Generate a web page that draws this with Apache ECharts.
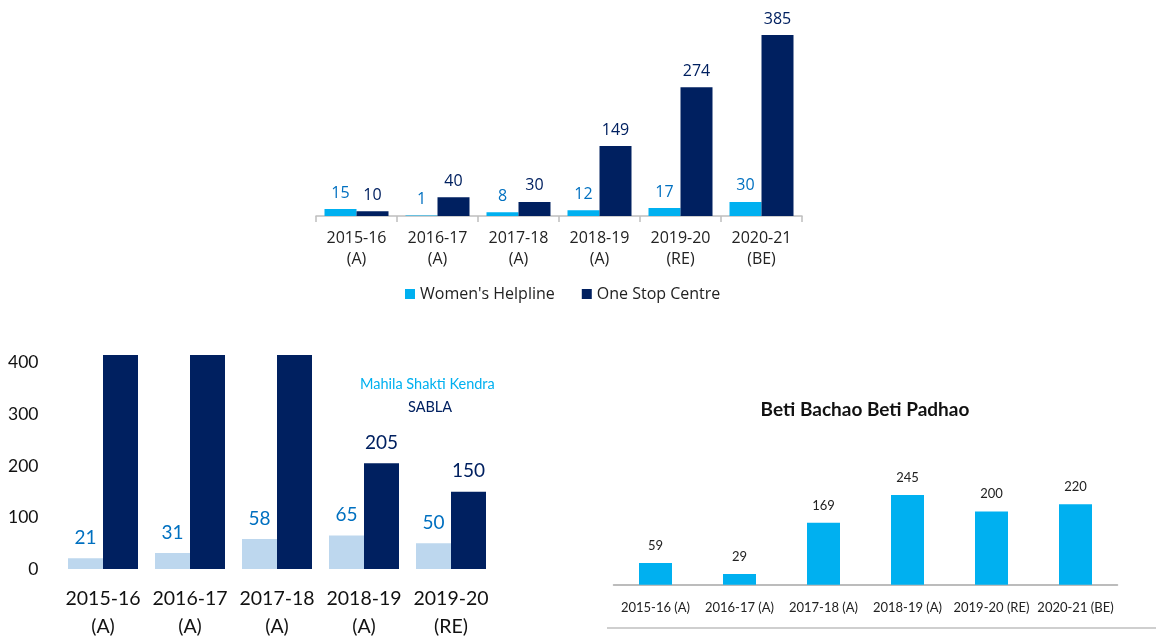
<!DOCTYPE html>
<html>
<head>
<meta charset="utf-8">
<script src="https://cdn.jsdelivr.net/npm/echarts@6/dist/echarts.min.js"></script>
<style>
  html, body { margin: 0; padding: 0; background: #ffffff; }
  #chart { width: 1156px; height: 642px; }
</style>
</head>
<body>
<div id="chart"></div>
<script>
// Women's Helpline vs One Stop Centre (Rs crore)
const yearsA = ['2015-16\n(A)', '2016-17\n(A)', '2017-18\n(A)', '2018-19\n(A)', '2019-20\n(RE)', '2020-21\n(BE)'];
const helpline = [15, 1, 8, 12, 17, 30];
const oneStop = [10, 40, 30, 149, 274, 385];

// Mahila Shakti Kendra vs SABLA (Rs crore)
const yearsB = ['2015-16\n(A)', '2016-17\n(A)', '2017-18\n(A)', '2018-19\n(A)', '2019-20\n(RE)'];
const mahila = [21, 31, 58, 65, 50];
const sabla = [475, 482, 460, 205, 150];
const sablaAxisMax = 415;

// Beti Bachao Beti Padhao (Rs crore)
const yearsC = ['2015-16 (A)', '2016-17 (A)', '2017-18 (A)', '2018-19 (A)', '2019-20 (RE)', '2020-21 (BE)'];
const bbbp = [59, 29, 169, 245, 200, 220];

const SKY = '#00B0F0';
const NAVY = '#002060';
const LABEL_BLUE = '#0070C0';
const PALE = '#BDD7EE';
const OPEN = '"Open Sans", sans-serif';
const LATO = 'Lato, sans-serif';

const chart = echarts.init(document.getElementById('chart'), null, { renderer: 'canvas' });

const option = {
  animation: false,
  backgroundColor: '#ffffff',
  title: [{
    text: 'Beti Bachao Beti Padhao',
    left: 865, top: 400, textAlign: 'center', padding: 0,
    textStyle: { fontFamily: LATO, fontWeight: 'bold', fontSize: 19, color: '#111' }
  }],
  legend: [
    {
      data: ['Women\'s Helpline', 'One Stop Centre'],
      left: 405, top: 286, itemWidth: 10, itemHeight: 10, itemGap: 27, padding: 0,
      icon: 'rect',
      textStyle: { fontFamily: OPEN, fontSize: 16, color: '#222' }
    },
    {
      data: [{ name: 'Mahila Shakti Kendra', icon: 'none' }],
      left: 355, top: 377, itemWidth: 0, padding: 0, selectedMode: false,
      textStyle: { fontFamily: LATO, fontSize: 14.5, color: SKY }
    },
    {
      data: [{ name: 'SABLA', icon: 'none' }],
      left: 403, top: 400, itemWidth: 0, padding: 0, selectedMode: false,
      textStyle: { fontFamily: LATO, fontSize: 14.5, color: NAVY }
    }
  ],
  grid: [
    { left: 316, right: 354, top: 28, bottom: 426 },
    { left: 59.5, right: 661.5, top: 355, bottom: 73 },
    { left: 613.5, right: 38.5, top: 438.3, bottom: 57.3 }
  ],
  xAxis: [
    {
      gridIndex: 0, type: 'category', data: yearsA,
      axisLine: { lineStyle: { color: '#BFBFBF', width: 1.5 } },
      axisTick: { show: true, length: 6, lineStyle: { color: '#BFBFBF', width: 1.5 } },
      axisLabel: { interval: 0, fontFamily: OPEN, fontSize: 16, color: '#222', lineHeight: 21, margin: 12 }
    },
    {
      gridIndex: 1, type: 'category', data: yearsB,
      axisLine: { show: false }, axisTick: { show: false },
      axisLabel: { interval: 0, fontFamily: LATO, fontSize: 19.5, color: '#111', lineHeight: 28, margin: 16 }
    },
    {
      gridIndex: 2, type: 'category', data: yearsC,
      axisLine: { lineStyle: { color: '#A6A6A6', width: 1.5 } }, axisTick: { show: false },
      axisLabel: { interval: 0, fontFamily: LATO, fontSize: 13, color: '#222', lineHeight: 16, margin: 15 }
    }
  ],
  yAxis: [
    { gridIndex: 0, type: 'value', min: 0, max: 400, show: false },
    {
      gridIndex: 1, type: 'value', min: 0, max: sablaAxisMax, interval: 100,
      axisLine: { show: false }, axisTick: { show: false }, splitLine: { show: false },
      axisLabel: { fontFamily: LATO, fontSize: 17.5, color: '#111', margin: 21, showMaxLabel: false }
    },
    { gridIndex: 2, type: 'value', min: 0, max: 400, show: false }
  ],
  series: [
    {
      name: 'Women\'s Helpline', type: 'bar', xAxisIndex: 0, yAxisIndex: 0,
      data: helpline, barWidth: 32, barGap: '0%',
      itemStyle: { color: SKY },
      label: { show: true, position: 'top', distance: 8, fontFamily: OPEN, fontSize: 16, color: LABEL_BLUE }
    },
    {
      name: 'One Stop Centre', type: 'bar', xAxisIndex: 0, yAxisIndex: 0,
      data: oneStop, barWidth: 32, barGap: '0%',
      itemStyle: { color: NAVY },
      label: { show: true, position: 'top', distance: 8, fontFamily: OPEN, fontSize: 16, color: NAVY }
    },
    {
      name: 'Mahila Shakti Kendra', type: 'bar', xAxisIndex: 1, yAxisIndex: 1,
      data: mahila, barWidth: 35, barGap: '0%',
      itemStyle: { color: PALE },
      label: { show: true, position: 'top', distance: 11, fontFamily: LATO, fontSize: 19, color: LABEL_BLUE }
    },
    {
      name: 'SABLA', type: 'bar', xAxisIndex: 1, yAxisIndex: 1,
      // bars taller than the axis are cut at the plot top, without a value label
      data: sabla.map(v => ({ value: v, label: { show: v <= sablaAxisMax } })),
      barWidth: 35, barGap: '0%', clip: true,
      itemStyle: { color: NAVY },
      label: { position: 'top', distance: 11, fontFamily: LATO, fontSize: 19, color: NAVY }
    },
    {
      name: 'Beti Bachao Beti Padhao', type: 'bar', xAxisIndex: 2, yAxisIndex: 2,
      data: bbbp, barWidth: 33,
      itemStyle: { color: SKY },
      label: { show: true, position: 'top', distance: 11, fontFamily: LATO, fontSize: 13, color: '#222' }
    }
  ],
  graphic: [{
    type: 'line',
    shape: { x1: 607, y1: 628, x2: 1156, y2: 628 },
    style: { stroke: '#BFBFBF', lineWidth: 1.5 },
    silent: true
  }]
};

chart.setOption(option);
</script>
</body>
</html>
